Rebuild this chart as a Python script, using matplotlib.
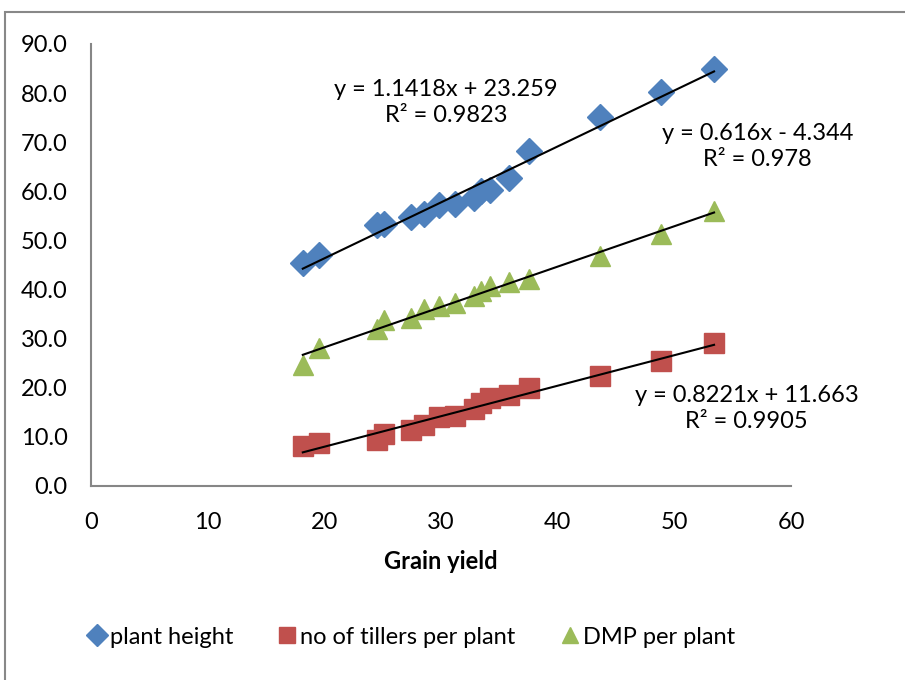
import numpy as np
import matplotlib.pyplot as plt
from matplotlib.patches import Rectangle

plt.rcParams['font.family'] = ['Lato', 'DejaVu Sans']

# data
grain_yield = [18.15, 19.5, 24.55, 25.1, 27.4, 28.55, 29.8, 31.2,
               32.8, 33.45, 34.2, 35.8, 37.5, 43.6, 48.85, 53.4]
plant_height = [45.5, 47.0, 53.1, 53.3, 54.8, 55.4, 57.2, 57.4,
                58.6, 60.0, 60.3, 62.8, 68.2, 75.1, 80.3, 85.0]
tillers = [8.1, 8.8, 9.4, 10.6, 11.4, 12.4, 14.0, 14.3,
           15.6, 16.8, 17.9, 18.5, 19.9, 22.3, 25.5, 29.1]
dmp = [24.6, 28.0, 32.0, 33.7, 34.2, 36.1, 36.6, 37.3,
       38.6, 39.7, 40.8, 41.6, 42.1, 46.8, 51.3, 55.9]

labels = ['plant height', 'no of tillers per plant', 'DMP per plant']
eq_texts = ['y = 1.1418x + 23.259\nR² = 0.9823',
            'y = 0.616x - 4.344\nR² = 0.978',
            'y = 0.8221x + 11.663\nR² = 0.9905']

blue, red, green = '#4F81BD', '#C0504D', '#9BBB59'

fig = plt.figure(figsize=(9.05, 6.8), dpi=100)
ax = fig.add_axes([0.1006, 0.2853, 0.7735, 0.65])

x = np.array(grain_yield)
series = [(plant_height, 'D', blue, 13),
          (tillers, 's', red, 14),
          (dmp, '^', green, 14)]
for (y, mk, c, ms), lab in zip(series, labels):
    ax.plot(x, y, mk, color=c, ms=ms, mec=c, ls='none', label=lab, zorder=3)
    m, n = np.polyfit(x, y, 1)
    xx = np.array([x.min(), x.max()])
    ax.plot(xx, m*xx + n, '-', color='black', lw=1.5, zorder=4)

#%% trend line labels
ax.text(30.43, 78.1, eq_texts[0], ha='center', va='center', fontsize=17, linespacing=1.3)
ax.text(57.1, 69.1, eq_texts[1], ha='center', va='center', fontsize=17, linespacing=1.3)
ax.text(56.2, 15.8, eq_texts[2], ha='center', va='center', fontsize=17, linespacing=1.3)

ax.set_xlim(0, 60)
ax.set_ylim(0, 90)
ax.set_xticks(np.arange(0, 61, 10))
ax.set_yticks(np.arange(0, 91, 10))
ax.set_yticklabels([f'{v:.1f}' for v in np.arange(0, 91, 10)])
ax.tick_params(length=0, labelsize=17)
ax.tick_params(axis='x', pad=19)
ax.tick_params(axis='y', pad=17)
for s in ['top', 'right']:
    ax.spines[s].set_visible(False)
for s in ['left', 'bottom']:
    ax.spines[s].set_color('#868686')
    ax.spines[s].set_linewidth(1.5)
ax.set_xlabel('Grain yield', fontsize=17, fontweight='bold', labelpad=12)

fig.legend(loc='center left', bbox_to_anchor=(0.073, 0.063), ncol=3, frameon=False,
           fontsize=17, handletextpad=0.15, columnspacing=1.9, markerscale=0.85,
           handlelength=0.8)

# chart frame
fig.add_artist(Rectangle((5/905, -0.1), 2, 0.1 + 668/680, transform=fig.transFigure,
                         fill=False, ec='#888888', lw=1.5))

plt.savefig('out.png', dpi=100)
